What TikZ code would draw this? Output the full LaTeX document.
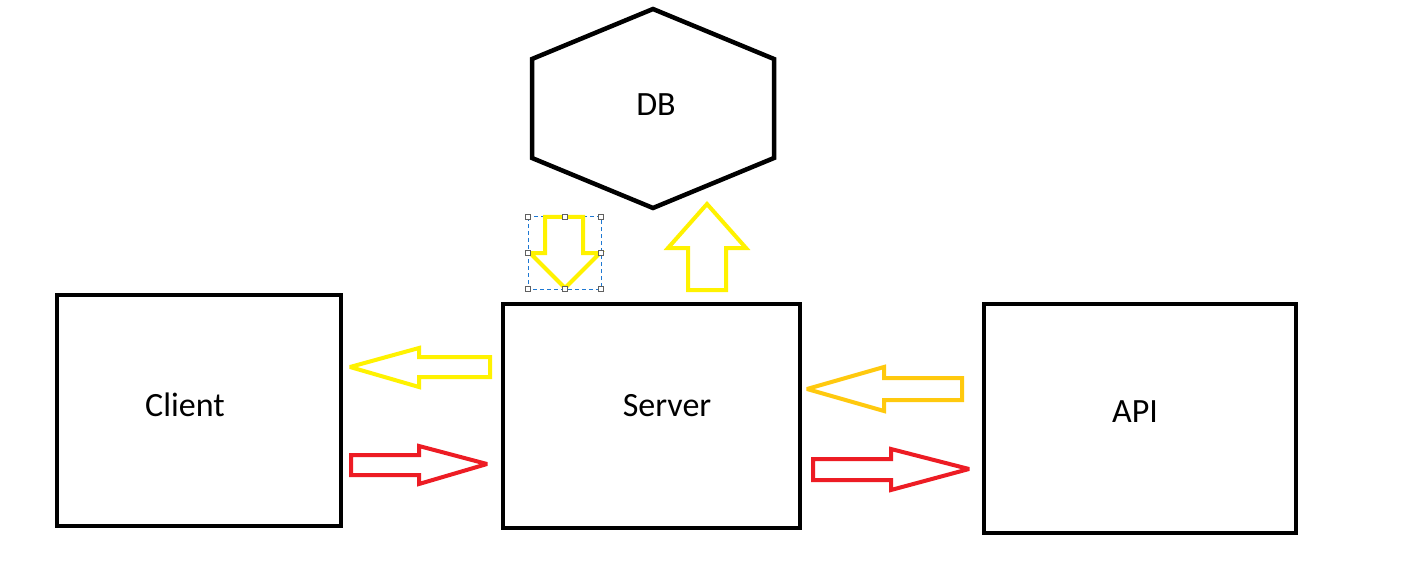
\documentclass[tikz,border=0pt]{standalone}
\usepackage{fontspec}
\setmainfont{Carlito}
\definecolor{pyellow}{HTML}{FFF200}
\definecolor{porange}{HTML}{FFC90E}
\definecolor{pred}{HTML}{ED1C24}
\definecolor{selblue}{HTML}{1E78D2}
\definecolor{handlegray}{HTML}{606060}
\begin{document}
\begin{tikzpicture}[x=1pt,y=-1pt,
  box/.style={draw=black,line width=4.5pt},
  label/.style={font=\fontsize{34}{40}\selectfont,text=black},
  blockarrow/.style={line width=4pt,line join=miter,miter limit=3},
  handle/.style={draw=handlegray,fill=white,line width=1pt,minimum size=5.5pt,inner sep=0pt,rectangle}]
\useasboundingbox[fill=white] (0,0) rectangle (1408,564);
% boxes
\draw[box] (57,295) rectangle (341,526);
\draw[box] (503,304) rectangle (800,528);
\draw[box] (984,304) rectangle (1296,533);
\node[label] (client) at (185,405) {Client};
\node[label] (server) at (667,406) {Server};
\node[label] (api) at (1135,412) {API};
% hexagon
\draw[box,line join=miter] (653,9) -- (774,59) -- (774,158) -- (653,208) -- (532,158) -- (532,59) -- cycle;
\node[label] (db) at (656,105) {DB};
% selection box
\draw[selblue,line width=1pt,dash pattern=on 4pt off 3pt] (528,217) rectangle (601,289);
% down arrow
\draw[blockarrow,pyellow] (545,217) -- (583,217) -- (583,253) -- (600,253) -- (565,288) -- (530,253) -- (545,253) -- cycle;
\foreach \p in {(528,217),(565,217),(601,217),(528,253),(601,253),(528,289),(565,289),(601,289)}
  \node[handle] at \p {};
% up arrow
\draw[blockarrow,pyellow] (707,204) -- (746,248) -- (726,248) -- (726,290) -- (688,290) -- (688,248) -- (668,248) -- cycle;
% left yellow arrow
\draw[blockarrow,pyellow] (350,367) -- (419,348) -- (419,357) -- (490,357) -- (490,377) -- (419,377) -- (419,387) -- cycle;
% right red arrow 1
\draw[blockarrow,pred] (351,455) -- (419,455) -- (419,446) -- (487,464) -- (419,484) -- (419,475) -- (351,475) -- cycle;
% left orange arrow
\draw[blockarrow,porange] (807,389) -- (884,367) -- (884,378) -- (962,378) -- (962,400) -- (884,400) -- (884,411) -- cycle;
% right red arrow 2
\draw[blockarrow,pred] (813,459) -- (891,459) -- (891,449) -- (969,469) -- (891,490) -- (891,480) -- (813,480) -- cycle;
\end{tikzpicture}
\end{document}
